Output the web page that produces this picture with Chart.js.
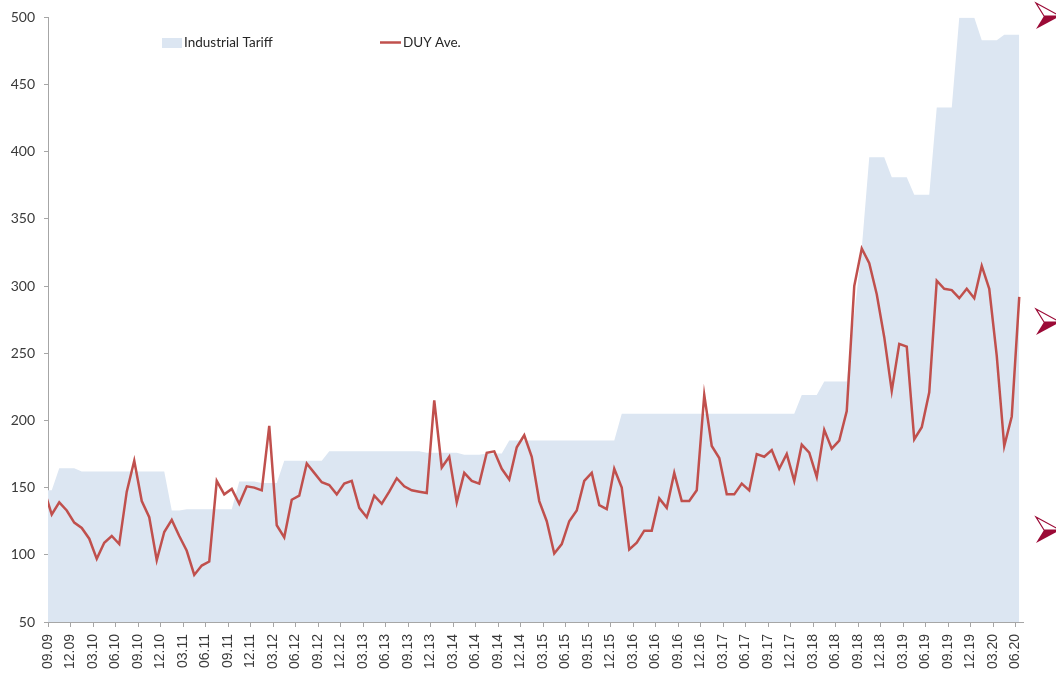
<!DOCTYPE html>
<html>
<head>
<meta charset="utf-8">
<script src="https://cdn.jsdelivr.net/npm/chart.js@4.4.1/dist/chart.umd.min.js"></script>
<style>
  html, body { margin: 0; padding: 0; background: #ffffff; }
  #wrap { position: relative; width: 1056px; height: 678px; }
</style>
</head>
<body>
<div id="wrap"><canvas id="c"></canvas></div>
<script>
// Monthly categories (first entry is the clipped month before the axis start)
const months = [
  "08.09","09.09","10.09","11.09","12.09",
  "01.10","02.10","03.10","04.10","05.10","06.10","07.10","08.10","09.10","10.10","11.10","12.10",
  "01.11","02.11","03.11","04.11","05.11","06.11","07.11","08.11","09.11","10.11","11.11","12.11",
  "01.12","02.12","03.12","04.12","05.12","06.12","07.12","08.12","09.12","10.12","11.12","12.12",
  "01.13","02.13","03.13","04.13","05.13","06.13","07.13","08.13","09.13","10.13","11.13","12.13",
  "01.14","02.14","03.14","04.14","05.14","06.14","07.14","08.14","09.14","10.14","11.14","12.14",
  "01.15","02.15","03.15","04.15","05.15","06.15","07.15","08.15","09.15","10.15","11.15","12.15",
  "01.16","02.16","03.16","04.16","05.16","06.16","07.16","08.16","09.16","10.16","11.16","12.16",
  "01.17","02.17","03.17","04.17","05.17","06.17","07.17","08.17","09.17","10.17","11.17","12.17",
  "01.18","02.18","03.18","04.18","05.18","06.18","07.18","08.18","09.18","10.18","11.18","12.18",
  "01.19","02.19","03.19","04.19","05.19","06.19","07.19","08.19","09.19","10.19","11.19","12.19",
  "01.20","02.20","03.20","04.20","05.20","06.20"
];

// Tick labels (every third month)
const tickLabels = [
  "09.09","12.09","03.10","06.10","09.10","12.10","03.11","06.11","09.11","12.11",
  "03.12","06.12","09.12","12.12","03.13","06.13","09.13","12.13","03.14","06.14",
  "09.14","12.14","03.15","06.15","09.15","12.15","03.16","06.16","09.16","12.16",
  "03.17","06.17","09.17","12.17","03.18","06.18","09.18","12.18","03.19","06.19",
  "09.19","12.19","03.20","06.20"
];

const industrialTariff = [
  148,
  148,164.5,164.5,164.5,162,162,162,162,162,162,
  162,162,162,162,162,162,133,133,134,134,
  134,134,134,134,134,154.5,154.5,154.5,153.5,153.5,
  153.5,170,170,170,170,170,170,177,177,177,
  177,177,177,177,177,177,177,177,177,177,
  176,176,176,176,176,174.5,174.5,174.5,175.5,175.5,
  175.5,185,185,185,185,185,185,185,185,185,
  185,185,185,185,185,185,205,205,205,205,
  205,205,205,205,205,205,205,205,205,205,
  205,205,205,205,205,205,205,205,205,205,
  219,219,219,229,229,229,229,279,328,396,
  396,396,381,381,381,368,368,368,433,433,
  433,500,500,500,483,483,483,487,487,487
];

const duyAve = [
  148,
  130,139,133,124,120,112,97,109,114,108,
  147,170,140,128,96,117,126,114,103,85,
  92,95,155,145,149,138,151,150,148,196,
  122,113,141,144,168,161,154,152,145,153,
  155,135,128,144,138,147,157,151,148,147,
  146,215,165,173,139,161,155,153,176,177,
  164,156,180,189,173,140,125,101,108,125,
  133,155,161,137,134,164,150,104,109,118,
  118,142,135,161,140,140,148,219,181,172,
  145,145,153,148,175,173,178,164,175,155,
  182,176,158,193,179,185,207,300,328,317,
  294,262,222,257,255,186,195,221,304,298,
  297,291,298,291,315,298,248,181,203,292
];

const yTicks = [50,100,150,200,250,300,350,400,450,500];

const AXIS_GRAY = '#A6A6A6';
const TEXT_GRAY = '#3A3A3A';
const AREA_COLOR = '#DCE6F2';
const LINE_COLOR = '#C0504D';

// month index i (0 = 08.09) sits at the middle of its month; 09.09 starts at 0
const toPoints = (vals) => vals.map((v, i) => ({ x: i - 0.5, y: v }));

const legendPlugin = {
  id: 'insideLegend',
  afterDatasetsDraw(chart) {
    const ctx = chart.ctx;
    const ca = chart.chartArea;
    const ds = chart.data.datasets;
    ctx.save();
    ctx.font = '13.5px Lato';
    ctx.textBaseline = 'middle';
    ctx.textAlign = 'left';
    // Industrial Tariff
    const x1 = ca.left + 114, y1 = 43;
    ctx.fillStyle = ds[1].backgroundColor;
    ctx.fillRect(x1, y1 - 5, 20, 10);
    ctx.fillStyle = '#262626';
    ctx.fillText(ds[1].label, x1 + 22, y1);
    // DUY Ave.
    const x2 = ca.left + 332, y2 = 43;
    ctx.strokeStyle = ds[0].borderColor;
    ctx.lineWidth = 2.5;
    ctx.beginPath();
    ctx.moveTo(x2, y2 - 0.5);
    ctx.lineTo(x2 + 21, y2 - 0.5);
    ctx.stroke();
    ctx.fillStyle = '#262626';
    ctx.fillText(ds[0].label, x2 + 23, y2);
    ctx.restore();
  }
};

// Decorative slide bullet arrows on the right edge
const arrowPlugin = {
  id: 'bulletArrows',
  afterDraw(chart) {
    const ctx = chart.ctx;
    const centers = [16, 322, 530];
    ctx.save();
    centers.forEach(c => {
      const lx = 1036, tip = 1060, notch = 1044;
      ctx.fillStyle = '#9B0A36';
      ctx.beginPath();
      ctx.moveTo(notch, c);
      ctx.lineTo(tip, c);
      ctx.lineTo(lx, c + 13);
      ctx.closePath();
      ctx.fill();
      ctx.strokeStyle = '#9B0A36';
      ctx.lineWidth = 1.2;
      ctx.fillStyle = '#ffffff';
      ctx.beginPath();
      ctx.moveTo(lx, c - 13);
      ctx.lineTo(tip, c);
      ctx.lineTo(notch, c);
      ctx.closePath();
      ctx.fill();
      ctx.stroke();
    });
    ctx.restore();
  }
};

new Chart(document.getElementById('c'), {
  type: 'line',
  data: {
    datasets: [
      {
        label: 'DUY Ave.',
        data: toPoints(duyAve),
        borderColor: LINE_COLOR,
        borderWidth: 2.5,
        pointRadius: 0,
        tension: 0,
        fill: false,
        clip: 0,
        order: 1
      },
      {
        label: 'Industrial Tariff',
        data: toPoints(industrialTariff),
        backgroundColor: AREA_COLOR,
        borderColor: AREA_COLOR,
        borderWidth: 0,
        pointRadius: 0,
        tension: 0,
        fill: 'start',
        clip: 0,
        order: 2
      }
    ]
  },
  options: {
    responsive: true,
    maintainAspectRatio: false,
    animation: false,
    events: [],
    layout: { padding: { top: 15, right: 33, left: 0, bottom: 0 } },
    plugins: {
      legend: { display: false },
      tooltip: { enabled: false },
      title: { display: false }
    },
    scales: {
      x: {
        type: 'linear',
        min: 0,
        max: 130,
        afterBuildTicks: (scale) => {
          scale.ticks = tickLabels.map((t, i) => ({ value: i * 3 }));
        },
        afterFit: (scale) => { scale.height = 56; },
        ticks: {
          autoSkip: false,
          maxRotation: 90,
          minRotation: 90,
          padding: 7,
          color: TEXT_GRAY,
          font: { family: 'Liberation Sans', size: 14 },
          callback: (v) => tickLabels[Math.round(v / 3)]
        },
        grid: {
          drawOnChartArea: false,
          drawTicks: true,
          tickLength: 5,
          color: AXIS_GRAY
        },
        border: { color: AXIS_GRAY, width: 1 }
      },
      y: {
        min: 50,
        max: 500,
        afterBuildTicks: (scale) => {
          scale.ticks = yTicks.map(v => ({ value: v }));
        },
        afterFit: (scale) => { scale.width = 48; },
        ticks: {
          padding: 9,
          color: TEXT_GRAY,
          font: { family: 'Lato', size: 14 }
        },
        grid: {
          drawOnChartArea: false,
          drawTicks: true,
          tickLength: 4,
          color: AXIS_GRAY
        },
        border: { color: AXIS_GRAY, width: 1 }
      }
    }
  },
  plugins: [legendPlugin, arrowPlugin]
});
</script>
</body>
</html>
